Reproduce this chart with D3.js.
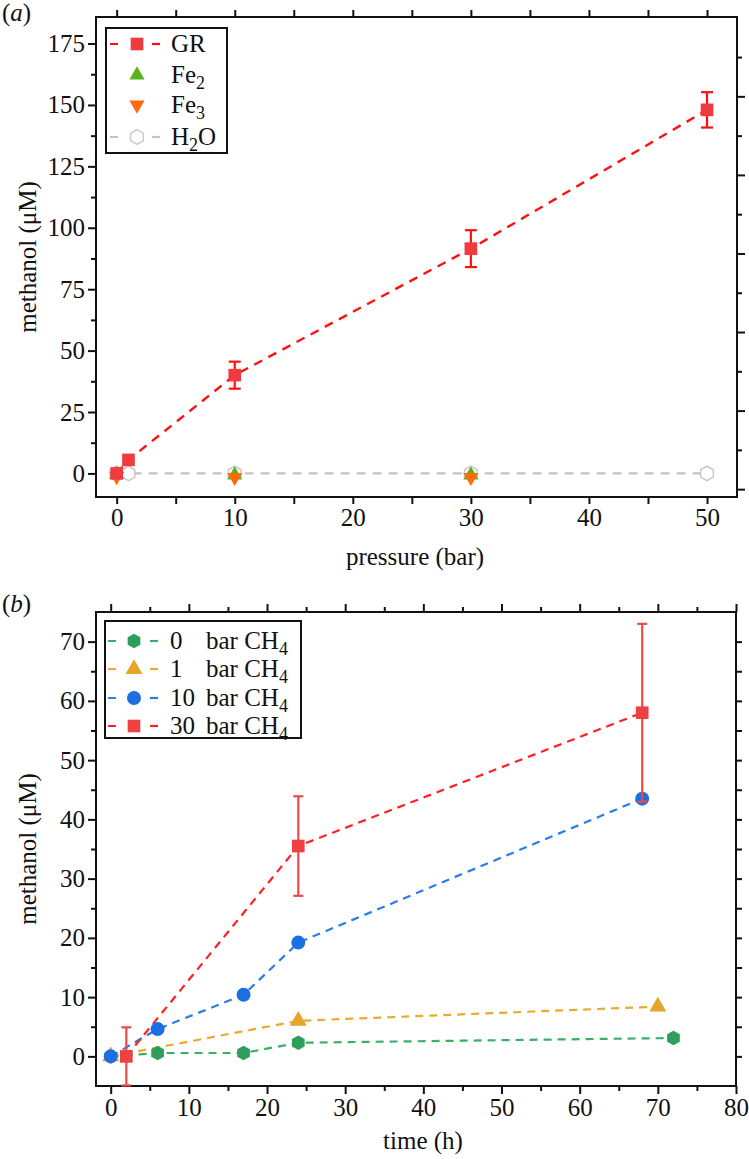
<!DOCTYPE html>
<html><head><meta charset="utf-8">
<script src="https://cdn.jsdelivr.net/npm/d3@7"></script>
<style>body{margin:0;background:#fff}svg{display:block}
svg text{font-family:"Liberation Serif","Times New Roman",Times,"Nimbus Roman",serif;}</style>
</head><body><svg id="c" width="749" height="1159"></svg>
<script>
// ---------- Panel (a) data ----------
const pressureGR = [0, 1, 10, 30, 50];
const methanolGR = [0, 5.5, 40, 91.5, 148];
const errorGR = [0, 0, 5.5, 7.5, 7.2];
const pressureFe = [0, 10, 30];
const methanolFe2 = [-0.5, -0.7, -0.7];
const methanolFe3 = [-1.2, -1.6, -1.6];
const pressureH2O = [0, 1, 10, 30, 50];
const methanolH2O = [0, 0, 0, 0, 0];
const aXTicks = [0, 10, 20, 30, 40, 50];
const aXMinor = [5, 15, 25, 35, 45];
const aYTicks = [0, 25, 50, 75, 100, 125, 150, 175];
const aYMinor = [12.5, 37.5, 62.5, 87.5, 112.5, 137.5, 162.5];
const aRightTicks = [0,1,2,3,4,5,6,7,8,9,10,11];

// ---------- Panel (b) data ----------
const time0 = [0, 6, 17, 24, 72];
const meth0 = [0, 0.57, 0.57, 2.3, 3.1];
const time1 = [0, 24, 70];
const meth1 = [0, 6.0, 8.4];
const time10 = [0, 6, 17, 24, 68];
const meth10 = [0, 4.6, 10.4, 19.2, 43.5];
const time30 = [2, 24, 68];
const meth30 = [0, 35.5, 58];
const err30 = [4.9, 8.4, 15];
const bXTicks = [0, 10, 20, 30, 40, 50, 60, 70, 80];
const bXMinor = [5, 15, 25, 35, 45, 55, 65, 75];
const bYTicks = [0, 10, 20, 30, 40, 50, 60, 70];
const bYMinor = [5, 15, 25, 35, 45, 55, 65];
const bRightTicks = [0,5,10,15,20,25,30,35,40,45,50,55,60,65,70];

const FS = 25;
const SUB = 18;
const svg = d3.select("#c");

const hexagon = {
  draw(ctx, size) {
    const r = Math.sqrt(size / (3 * Math.sqrt(3) / 2));
    for (let k = 0; k < 6; k++) {
      const a = -Math.PI / 2 + k * Math.PI / 3;
      const x = r * Math.cos(a), y = r * Math.sin(a);
      if (k === 0) ctx.moveTo(x, y); else ctx.lineTo(x, y);
    }
    ctx.closePath();
  }
};

function zip(xs, ys) { return xs.map((x, i) => ({x, y: ys[i]})); }

function frameAndAxes(g, x, y, opt) {
  const [x0, x1] = x.range(), [y0, y1] = y.range();
  const style = sel => {
    sel.select(".domain").remove();
    sel.attr("font-family", null);
    sel.selectAll(".tick line").attr("stroke", "#111").attr("stroke-width", 2);
    sel.selectAll("text").attr("font-size", FS).attr("fill", "#111");
  };
  g.append("g").attr("transform", `translate(0,${y0})`)
    .call(d3.axisBottom(x).tickValues(opt.xMaj).tickSize(opt.xMajLen).tickPadding(4).tickFormat(d3.format("d"))).call(style);
  g.append("g").attr("transform", `translate(0,${y0})`)
    .call(d3.axisBottom(x).tickValues(opt.xMin).tickSize(opt.xMinLen).tickFormat("")).call(style);
  g.append("g").attr("transform", `translate(0,${y1})`)
    .call(d3.axisTop(x).tickValues(opt.xMaj).tickSize(opt.xMajLen).tickFormat("")).call(style);
  g.append("g").attr("transform", `translate(0,${y1})`)
    .call(d3.axisTop(x).tickValues(opt.xMin).tickSize(opt.topMinLen).tickFormat("")).call(style);
  g.append("g").attr("transform", `translate(${x0},0)`)
    .call(d3.axisLeft(y).tickValues(opt.yMaj).tickSize(8).tickPadding(3).tickFormat(d3.format("d"))).call(style);
  g.append("g").attr("transform", `translate(${x0},0)`)
    .call(d3.axisLeft(y).tickValues(opt.yMin).tickSize(5).tickFormat("")).call(style);
  opt.right(g, style);
  g.append("rect").attr("x", x0).attr("y", y1).attr("width", x1 - x0).attr("height", y0 - y1)
    .attr("fill", "none").attr("stroke", "#111").attr("stroke-width", 2);
}

// ================= Panel (a) =================
const xA = d3.scaleLinear().domain([-1.75, 52.54]).range([96, 737]);
const yA = d3.scaleLinear().domain([-9.6, 185.8]).range([497, 17]);
const yARight = d3.scaleLinear().domain([-0.2, 12.02]).range([497, 17]);
const gA = svg.append("g");

frameAndAxes(gA, xA, yA, {
  xMaj: aXTicks, xMin: aXMinor, xMajLen: 7, xMinLen: 7, topMinLen: 7,
  yMaj: aYTicks, yMin: aYMinor,
  right: (g, style) => {
    g.append("g").attr("transform", `translate(737,0)`)
      .call(d3.axisRight(yARight).tickValues(aRightTicks.filter(d => d % 2 === 0)).tickSize(8).tickFormat("")).call(style);
    g.append("g").attr("transform", `translate(737,0)`)
      .call(d3.axisRight(yARight).tickValues(aRightTicks.filter(d => d % 2 === 1)).tickSize(5).tickFormat("")).call(style);
  }
});

const lineA = d3.line().x(d => xA(d.x)).y(d => yA(d.y));
gA.append("path").attr("d", lineA(zip(pressureH2O, methanolH2O)))
  .attr("fill", "none").attr("stroke", "#c4c4c4").attr("stroke-width", 2.2).attr("stroke-dasharray", "9,7");
gA.append("path").attr("d", lineA(zip(pressureGR, methanolGR)))
  .attr("fill", "none").attr("stroke", "#ff1010").attr("stroke-width", 2.4).attr("stroke-dasharray", "9,7");
gA.selectAll(".h2o").data(zip(pressureH2O, methanolH2O)).join("path")
  .attr("transform", d => `translate(${xA(d.x)},${yA(d.y)})`)
  .attr("d", d3.symbol().type(hexagon).size(140)())
  .attr("fill", "#fff").attr("stroke", "#c8c8c8").attr("stroke-width", 1.5);
gA.selectAll(".fe2").data(zip(pressureFe, methanolFe2)).join("path")
  .attr("transform", d => `translate(${xA(d.x)},${yA(d.y)})`)
  .attr("d", d3.symbol().type(d3.symbolTriangle).size(100)())
  .attr("fill", "#5cb21e");
gA.selectAll(".fe3").data(zip(pressureFe, methanolFe3)).join("path")
  .attr("transform", d => `translate(${xA(d.x)},${yA(d.y)}) rotate(180)`)
  .attr("d", d3.symbol().type(d3.symbolTriangle).size(100)())
  .attr("fill", "#ff6a0c");
const grData = pressureGR.map((p, i) => ({x: p, y: methanolGR[i], e: errorGR[i]})).filter(d => d.e > 0);
const eb = gA.selectAll(".ebA").data(grData).join("g").attr("stroke", "#ff1010").attr("stroke-width", 2.2);
eb.append("line").attr("x1", d => xA(d.x)).attr("x2", d => xA(d.x)).attr("y1", d => yA(d.y - d.e)).attr("y2", d => yA(d.y + d.e));
eb.append("line").attr("x1", d => xA(d.x) - 6).attr("x2", d => xA(d.x) + 6).attr("y1", d => yA(d.y + d.e)).attr("y2", d => yA(d.y + d.e));
eb.append("line").attr("x1", d => xA(d.x) - 6).attr("x2", d => xA(d.x) + 6).attr("y1", d => yA(d.y - d.e)).attr("y2", d => yA(d.y - d.e));
gA.selectAll(".gr").data(zip(pressureGR, methanolGR)).join("path")
  .attr("transform", d => `translate(${xA(d.x)},${yA(d.y)})`)
  .attr("d", d3.symbol().type(d3.symbolSquare).size(160)())
  .attr("fill", "#ef3b3f");

// Legend (a)
const legA = gA.append("g");
legA.append("rect").attr("x", 106).attr("y", 28).attr("width", 121).attr("height", 125)
  .attr("fill", "#fff").attr("stroke", "#111").attr("stroke-width", 2);
const legAItems = [
  {y: 44, name: "GR", sub: null, after: null, line: "#ff1010", sym: d3.symbolSquare, size: 160, fill: "#ef3b3f", rot: 0},
  {y: 75, name: "Fe", sub: "2", after: null, line: null, sym: d3.symbolTriangle, size: 100, fill: "#5cb21e", rot: 0},
  {y: 105, name: "Fe", sub: "3", after: null, line: null, sym: d3.symbolTriangle, size: 100, fill: "#ff6a0c", rot: 180},
  {y: 137, name: "H", sub: "2", after: "O", line: "#c4c4c4", sym: hexagon, size: 140, fill: "#fff", stroke: "#c8c8c8", rot: 0}
];
legAItems.forEach(it => {
  if (it.line) {
    legA.append("line").attr("x1", 110).attr("x2", 160).attr("y1", it.y).attr("y2", it.y)
      .attr("stroke", it.line).attr("stroke-width", 2.2).attr("stroke-dasharray", "8,34");
    legA.append("line").attr("x1", 152).attr("x2", 160).attr("y1", it.y).attr("y2", it.y)
      .attr("stroke", it.line).attr("stroke-width", 2.2);
  }
  legA.append("path").attr("transform", `translate(137,${it.y}) rotate(${it.rot})`)
    .attr("d", d3.symbol().type(it.sym).size(it.size)())
    .attr("fill", it.fill).attr("stroke", it.stroke || "none").attr("stroke-width", 1.5);
  const t = legA.append("text").attr("x", 171).attr("y", it.y + 8)
    .attr("font-size", FS).attr("fill", "#111").text(it.name);
  if (it.sub) {
    t.append("tspan").attr("dy", 6).attr("font-size", SUB).text(it.sub);
    if (it.after) t.append("tspan").attr("dy", -6).text(it.after);
  }
});

svg.append("text").attr("x", 415).attr("y", 565).attr("text-anchor", "middle")
  .attr("font-size", FS).attr("fill", "#111").text("pressure (bar)");
svg.append("text").attr("transform", "translate(36,257) rotate(-90)").attr("text-anchor", "middle")
  .attr("font-size", FS).attr("fill", "#111").text("methanol (μM)");
const la = svg.append("text").attr("x", 2).attr("y", 21).attr("font-size", FS).attr("fill", "#111");
la.append("tspan").text("(");
la.append("tspan").attr("font-style", "italic").text("a");
la.append("tspan").text(")");

// ================= Panel (b) =================
const xB = d3.scaleLinear().domain([-1.88, 80]).range([96, 736]);
const yB = d3.scaleLinear().domain([-5, 75]).range([1086, 612]);
const gB = svg.append("g");

frameAndAxes(gB, xB, yB, {
  xMaj: bXTicks, xMin: bXMinor, xMajLen: 8, xMinLen: 5, topMinLen: 5,
  yMaj: bYTicks, yMin: bYMinor,
  right: (g, style) => {
    g.append("g").attr("transform", `translate(736,0)`)
      .call(d3.axisRight(yB).tickValues(bRightTicks).tickSize(6).tickFormat("")).call(style);
  }
});

const lineB = d3.line().x(d => xB(d.x)).y(d => yB(d.y));
const seriesB = [
  {t: time0, m: meth0, line: "#38b068", fill: "#2f9e5d", sym: hexagon, size: 140},
  {t: time1, m: meth1, line: "#e8ac2c", fill: "#e4a52a", sym: d3.symbolTriangle, size: 125},
  {t: time10, m: meth10, line: "#2a7ce8", fill: "#1c6fe0", sym: d3.symbolCircle, size: 154},
  {t: time30, m: meth30, line: "#ff2020", fill: "#ef4044", sym: d3.symbolSquare, size: 160}
];
seriesB.forEach(s => {
  gB.append("path").attr("d", lineB(zip(s.t, s.m)))
    .attr("fill", "none").attr("stroke", s.line).attr("stroke-width", 2.2).attr("stroke-dasharray", "8,6");
});
seriesB.forEach((s, si) => {
  if (si === 3) {
    const ed = time30.map((t, i) => ({x: t, y: meth30[i], e: err30[i]}));
    const e = gB.selectAll(".ebB").data(ed).join("g").attr("stroke", "#f04848").attr("stroke-width", 2.2);
    e.append("line").attr("x1", d => xB(d.x)).attr("x2", d => xB(d.x)).attr("y1", d => yB(d.y - d.e)).attr("y2", d => yB(d.y + d.e));
    e.append("line").attr("x1", d => xB(d.x) - 5).attr("x2", d => xB(d.x) + 5).attr("y1", d => yB(d.y + d.e)).attr("y2", d => yB(d.y + d.e));
    e.append("line").attr("x1", d => xB(d.x) - 5).attr("x2", d => xB(d.x) + 5).attr("y1", d => yB(d.y - d.e)).attr("y2", d => yB(d.y - d.e));
  }
  gB.append("g").selectAll("path").data(zip(s.t, s.m)).join("path")
    .attr("transform", d => `translate(${xB(d.x)},${yB(d.y)})`)
    .attr("d", d3.symbol().type(s.sym).size(s.size)())
    .attr("fill", s.fill);
});

// Legend (b)
const legB = gB.append("g");
legB.append("rect").attr("x", 105).attr("y", 621).attr("width", 196).attr("height", 117)
  .attr("fill", "#fff").attr("stroke", "#111").attr("stroke-width", 2);
const legBLabels = ["0", "1", "10", "30"];
const legBY = [641, 669, 698, 726];
seriesB.forEach((s, i) => {
  const y = legBY[i];
  legB.append("line").attr("x1", 108).attr("x2", 158).attr("y1", y).attr("y2", y)
    .attr("stroke", s.line).attr("stroke-width", 2.2).attr("stroke-dasharray", "8,34");
  legB.append("line").attr("x1", 150).attr("x2", 158).attr("y1", y).attr("y2", y)
    .attr("stroke", s.line).attr("stroke-width", 2.2);
  legB.append("path").attr("transform", `translate(134,${y})`)
    .attr("d", d3.symbol().type(s.sym).size(s.size)()).attr("fill", s.fill);
  legB.append("text").attr("x", 170).attr("y", y + 8).attr("font-size", FS)
    .attr("fill", "#111").text(legBLabels[i]);
  const t = legB.append("text").attr("x", 206).attr("y", y + 8).attr("font-size", FS)
    .attr("fill", "#111").text("bar CH");
  t.append("tspan").attr("dy", 6).attr("font-size", SUB).text("4");
});

svg.append("text").attr("x", 423).attr("y", 1149).attr("text-anchor", "middle")
  .attr("font-size", FS).attr("fill", "#111").text("time (h)");
svg.append("text").attr("transform", "translate(36,849) rotate(-90)").attr("text-anchor", "middle")
  .attr("font-size", FS).attr("fill", "#111").text("methanol (μM)");
const lb = svg.append("text").attr("x", 2).attr("y", 612).attr("font-size", FS).attr("fill", "#111");
lb.append("tspan").text("(");
lb.append("tspan").attr("font-style", "italic").text("b");
lb.append("tspan").text(")");
</script>
</body></html>
